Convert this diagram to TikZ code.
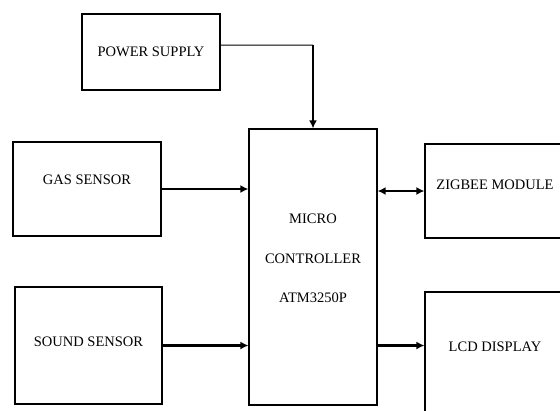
\documentclass[tikz,border=0pt]{standalone}
\usepackage{fontspec}
\setmainfont{Liberation Serif}
\usetikzlibrary{arrows.meta,positioning,calc}
\tikzset{
  box/.style={draw=black,line width=1.2bp,align=center,inner sep=0pt,
              font=\fontsize{14.5bp}{17bp}\selectfont,text height=10bp},
  arr/.style={-{Latex[length=8bp,width=8bp]},line width=2.2bp},
  darr/.style={{Latex[length=8bp,width=8bp]}-{Latex[length=8bp,width=8bp]},line width=2.2bp},
  feed/.style={line width=1bp}
}

\begin{document}
\begin{tikzpicture}[x=1bp,y=-1bp]
    \path[use as bounding box,fill=white] (0,0) rectangle (560,410);
    % blocks
    \node[box,minimum width=138bp,minimum height=76bp,text depth=0.4bp] (pwr) at (151,52) {POWER SUPPLY};
    \node[box,minimum width=148bp,minimum height=94bp,text depth=18.4bp] (gas) at (87,189) {GAS SENSOR};
    \node[box,minimum width=147bp,minimum height=117bp,text depth=7.4bp] (snd) at (88.5,345.5) {SOUND SENSOR};
    \node[box,minimum width=128bp,minimum height=276bp,font=\fontsize{14.5bp}{39.5bp}\selectfont,
          text height=81.6bp,text depth=10bp] (mcu) at (313,267) {MICRO\\CONTROLLER\\ATM3250P};
    \node[box,minimum width=140bp,minimum height=94bp,text depth=12.4bp] (zig) at (495,191) {ZIGBEE MODULE};
    \node[box,minimum width=140bp,minimum height=128bp,text depth=18.4bp] (lcd) at (495,356) {LCD DISPLAY};
    % links
    \coordinate (bend) at ($(mcu.north |- pwr.east)+(0,-7)$);
    \draw[feed] ([yshift=7bp]pwr.east) -- (bend);
    \draw[-{Latex[length=8bp,width=8bp]},line width=1.8bp] (bend) -- (mcu.north);
    \draw[arr] (gas.east) -- (gas.east -| mcu.west);
    \draw[arr] (snd.east) -- (snd.east -| mcu.west);
    \draw[darr] (mcu.east |- zig.west) -- (zig.west);
    \draw[arr] (mcu.east |- snd.east) -- (lcd.west |- snd.east);
\end{tikzpicture}
\end{document}
